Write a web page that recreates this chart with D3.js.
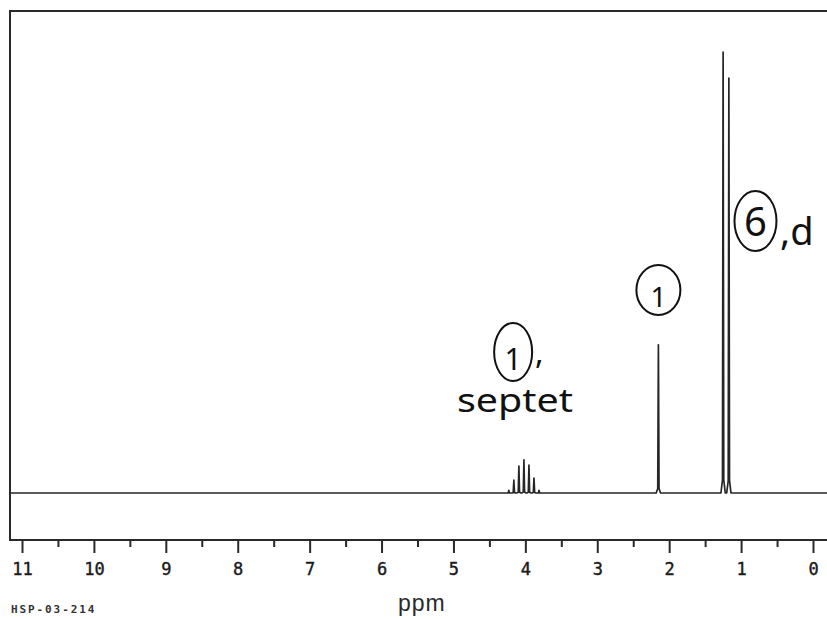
<!doctype html>
<html>
  <head>
    <meta charset="utf-8">
    <title>1H NMR spectrum</title>
    <script src="https://cdnjs.cloudflare.com/ajax/libs/d3/7.8.5/d3.min.js"></script>
    <style>
      body { margin: 0; background: #fff; }
      svg { display: block; }
    </style>
  </head>
  <body>
    <div id="chart"></div>
    <script>
    // data (ppm, relative height 0-100)
    let peakPpm    = [4.23, 4.16, 4.09, 4.02, 3.95, 3.88, 3.81, 2.15, 1.25, 1.17];
    let peakHeight = [0.6, 2.9, 6.1, 7.5, 6.3, 3.4, 0.6, 33.6, 100, 94.1];
    let majorTicks = [11, 10, 9, 8, 7, 6, 5, 4, 3, 2, 1, 0];
    let minorTicks = [10.5, 9.5, 8.5, 7.5, 6.5, 5.5, 4.5, 3.5, 2.5, 1.5, 0.5];
    let circleLabels = ["1", "1", "6"];
    let circlePpm = [4.17, 2.15, 0.8];
    let sideLabels = [",", ",d"];

    let width = 827, height = 619;
    let frameLeft = 10, frameTop = 11, frameBottom = 540;

    let svg = d3.select("#chart").append("svg")
      .attr("width", width)
      .attr("height", height);

    // scales
    let x = d3.scaleLinear().domain([11, 0]).range([22, 813]);
    let y = d3.scaleLinear().domain([0, 100]).range([493, 52]);

    // frame (right side runs off the page)
    svg.append("rect")
      .attr("x", frameLeft)
      .attr("y", frameTop)
      .attr("width", width + 20)
      .attr("height", frameBottom - frameTop)
      .style("fill", "none")
      .style("stroke", "#2a2a2a")
      .style("stroke-width", 2);

    // spectrum trace: baseline with a narrow spike for every peak
    let pts = [[x.invert(frameLeft), 0]];
    peakPpm.forEach(function(p, i) {
      let h = peakHeight[i];
      pts.push([p + 0.03, 0]);
      pts.push([p + 0.009, h * 0.03]);
      pts.push([p, h]);
      pts.push([p - 0.009, h * 0.03]);
      pts.push([p - 0.03, 0]);
    });
    pts.push([x.invert(width + 5), 0]);

    let line = d3.line()
      .x(d => x(d[0]))
      .y(d => y(d[1]));

    svg.append("path")
      .attr("d", line(pts))
      .style("fill", "none")
      .style("stroke", "#262626")
      .style("stroke-width", 1.7)
      .style("stroke-linejoin", "round");

    // axis along the bottom of the box
    let axis = svg.append("g")
      .attr("transform", "translate(0," + frameBottom + ")")
      .call(d3.axisBottom(x)
        .tickValues(majorTicks)
        .tickSize(13)
        .tickPadding(10)
        .tickFormat(d3.format("d")));
    axis.select(".domain").remove();
    axis.selectAll("line").style("stroke", "#2a2a2a").style("stroke-width", 2);
    axis.selectAll("text")
      .style("font-family", "'DejaVu Sans Mono', monospace")
      .style("font-size", "17px")
      .style("fill", "#1a1a1a")
      .style("stroke", "#1a1a1a")
      .style("stroke-width", 0.4);

    let minor = svg.append("g")
      .attr("transform", "translate(0," + frameBottom + ")")
      .call(d3.axisBottom(x).tickValues(minorTicks).tickSize(7).tickFormat(""));
    minor.select(".domain").remove();
    minor.selectAll("line").style("stroke", "#2a2a2a").style("stroke-width", 2);

    // captions
    svg.append("text")
      .attr("x", 11)
      .attr("y", 613)
      .text("HSP-03-214")
      .style("font-family", "'DejaVu Sans Mono', monospace")
      .style("font-size", "11px")
      .style("font-weight", "bold")
      .style("letter-spacing", "1.9px")
      .style("fill", "#333");

    svg.append("text")
      .attr("x", 398)
      .attr("y", 611)
      .text("ppm")
      .style("font-family", "'Liberation Sans', Arial, sans-serif")
      .style("font-size", "23px")
      .style("letter-spacing", "1px")
      .style("fill", "#2a2a2a");

    // handwritten notes: circled integrals
    let hand = svg.append("g")
      .style("font-family", "'Noto Sans', sans-serif")
      .style("fill", "#111");

    let circles = [
      { cx: x(circlePpm[0]), cy: 352, rx: 19, ry: 29, fs: 30, ty: 370 },
      { cx: x(circlePpm[1]), cy: 290, rx: 22, ry: 25, fs: 28, ty: 307 },
      { cx: x(circlePpm[2]), cy: 221, rx: 21, ry: 30, fs: 40, ty: 236 }
    ];

    circles.forEach(function(c, i) {
      hand.append("ellipse")
        .attr("cx", c.cx)
        .attr("cy", c.cy)
        .attr("rx", c.rx)
        .attr("ry", c.ry)
        .style("fill", "none")
        .style("stroke", "#111")
        .style("stroke-width", 2);
      hand.append("text")
        .attr("x", c.cx)
        .attr("y", c.ty)
        .attr("text-anchor", "middle")
        .text(circleLabels[i])
        .style("font-size", c.fs + "px");
    });

    hand.append("text")
      .attr("x", 535)
      .attr("y", 364)
      .text(sideLabels[0])
      .style("font-size", "32px");

    hand.append("text")
      .attr("x", 457)
      .attr("y", 412)
      .attr("textLength", 116)
      .attr("lengthAdjust", "spacingAndGlyphs")
      .text("septet")
      .style("font-size", "32px");

    hand.append("text")
      .attr("x", 780)
      .attr("y", 245)
      .text(sideLabels[1])
      .style("font-size", "38px");
    </script>
  </body>
</html>
